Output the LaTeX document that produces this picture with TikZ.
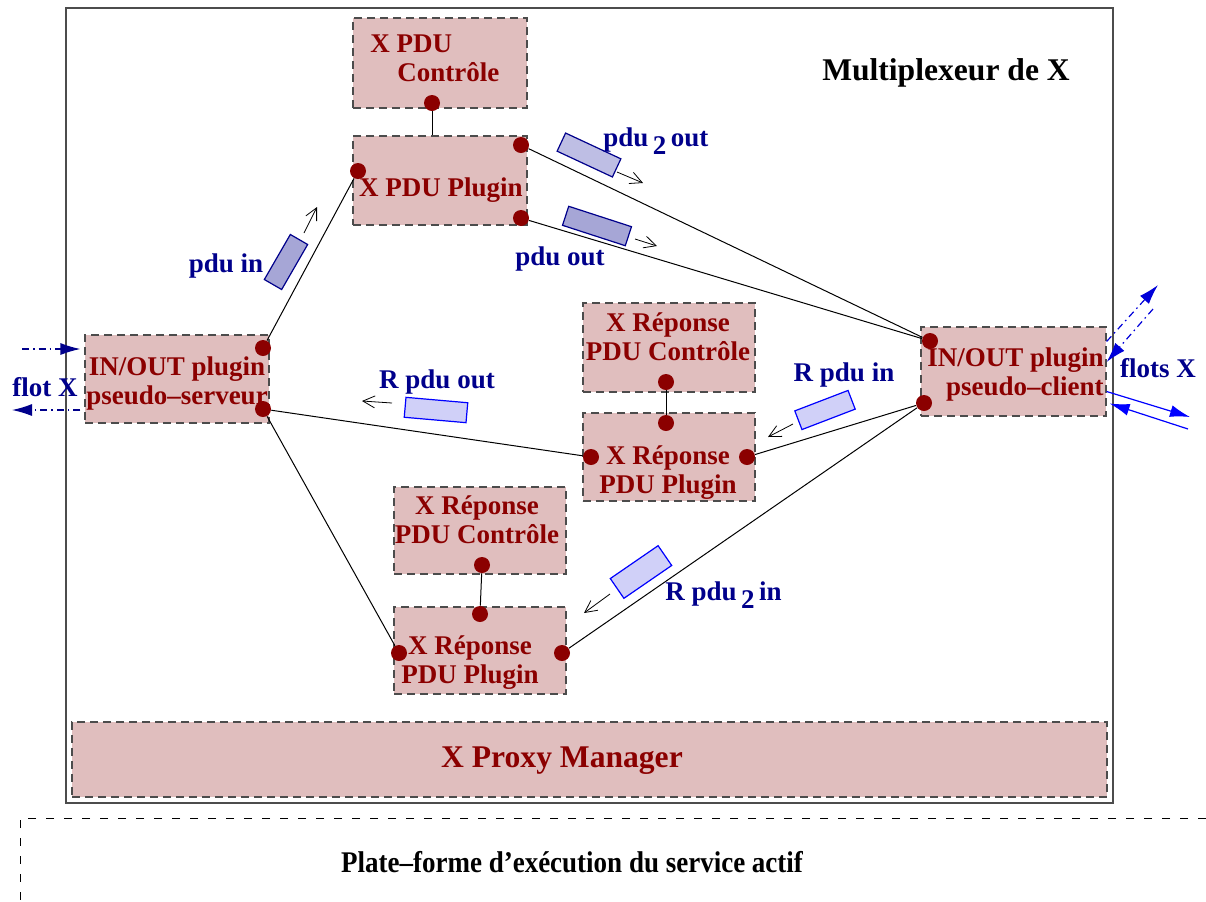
\documentclass[tikz,border=0pt]{standalone}
\usepackage{fontspec}
\setmainfont{Liberation Serif}
\usepackage{graphicx}
\usetikzlibrary{arrows.meta}
\definecolor{boxfill}{RGB}{224,190,190}
\definecolor{boxtext}{RGB}{139,0,0}
\definecolor{pdudark}{RGB}{166,166,214}
\definecolor{pdumid}{RGB}{190,190,228}
\definecolor{pdulight}{RGB}{208,208,248}
\definecolor{flowblue}{RGB}{0,0,139}

\begin{document}
\begin{tikzpicture}[
        x=0.5pt, y=-0.5pt,
        box/.style={rectangle, draw=black!70, dash pattern=on 4pt off 2.5pt,
                    fill=boxfill, line width=0.6pt, inner sep=0pt},
        boxtxt/.style={text=boxtext, font=\fontsize{13.5}{14.5}\selectfont\bfseries,
                       inner sep=0pt, align=center},
        dot/.style={circle, fill=boxtext, inner sep=0pt, minimum size=8pt},
        wire/.style={black, line width=0.5pt},
        pkt/.style={rectangle, draw=flowblue, line width=0.6pt,
                    minimum height=10pt, inner sep=0pt},
        pktarrow/.style={-{Straight Barb[length=6pt, width=6pt]}, black, line width=0.4pt},
        lbl/.style={text=flowblue, font=\fontsize{13.5}{14.5}\selectfont\bfseries, inner sep=0pt},
        flow/.style={-{Latex[length=10pt, width=6pt]}, line width=0.6pt},
        dashdot/.style={dash pattern=on 3.5pt off 2pt on 0.8pt off 2pt},
    ]
        \useasboundingbox (0,0) rectangle (1206,901);

        \node[draw=black!70, line width=1pt, minimum width=523.5pt, minimum height=397.5pt,
              inner sep=0pt] (mux) at (589.5,405.5) {};
        \node[font=\fontsize{15.8}{18}\selectfont\bfseries] (mux-t) at (946,73) {Multiplexeur de X};

        \node[box, minimum width=87pt, minimum height=45pt] (xctl) at (440,63) {};
        \node[box, minimum width=87pt, minimum height=44.5pt] (xplg) at (440,180.5) {};
        \node[box, minimum width=92pt, minimum height=44pt] (srv) at (177,379) {};
        \node[box, minimum width=92.5pt, minimum height=44.5pt] (cli) at (1013.5,371.5) {};
        \node[box, minimum width=86pt, minimum height=44.5pt] (rctla) at (669,347.5) {};
        \node[box, minimum width=86pt, minimum height=44pt] (rplga) at (669,457) {};
        \node[box, minimum width=86pt, minimum height=43.5pt] (rctlb) at (480,530.5) {};
        \node[box, minimum width=86pt, minimum height=43.5pt] (rplgb) at (480,650.5) {};
        \node[box, minimum width=517.5pt, minimum height=37.5pt] (proxy) at (589.5,759.5) {};

        \node[boxtxt, anchor=west, align=left] (xctl-t) at (370,58) {X PDU\\\hspace*{1em}Contrôle};
        \node[boxtxt] (xplg-t) at (441,190) {X PDU Plugin};
        \node[boxtxt] (srv-t) at (177,383) {IN/OUT plugin\\pseudo–serveur};
        \node[boxtxt, anchor=east, align=right] (cli-t) at (1104,374) {IN/OUT plugin\\pseudo–client};
        \node[boxtxt] (rctla-t) at (668,337) {X Réponse\\PDU Contrôle};
        \node[boxtxt] (rplga-t) at (668,473) {X Réponse\\PDU Plugin};
        \node[boxtxt] (rctlb-t) at (477,520) {X Réponse\\PDU Contrôle};
        \node[boxtxt] (rplgb-t) at (470,663) {X Réponse\\PDU Plugin};
        \node[boxtxt, font=\fontsize{15.8}{18}\selectfont\bfseries] (proxy-t) at (562,761) {X Proxy Manager};

        \node[dot] (xctl-s) at (432,103) {};
        \node[dot] (xplg-w) at (358,171) {};
        \node[dot] (xplg-ne) at (521,145) {};
        \node[dot] (xplg-se) at (521,218) {};
        \node[dot] (srv-ne) at (263,348) {};
        \node[dot] (srv-se) at (263,409) {};
        \node[dot] (cli-nw) at (930,341) {};
        \node[dot] (cli-sw) at (924,403) {};
        \node[dot] (rctla-s) at (666,382) {};
        \node[dot] (rplga-n) at (666,423) {};
        \node[dot] (rplga-w) at (591,457) {};
        \node[dot] (rplga-e) at (747,457) {};
        \node[dot] (rctlb-s) at (482,565) {};
        \node[dot] (rplgb-n) at (480,614) {};
        \node[dot] (rplgb-w) at (399,653) {};
        \node[dot] (rplgb-e) at (562,653) {};

        \draw[wire] (xctl-s) -- (xctl-s |- xplg.north);
        \draw[wire] (srv-ne) -- (xplg-w);
        \draw[wire] (xplg-ne) -- (cli-nw);
        \draw[wire] (xplg-se) -- (cli-nw);
        \draw[wire] (srv-se) -- (rplga-w);
        \draw[wire] (srv-se) -- (rplgb-w);
        \draw[wire] (rplga-e) -- (cli-sw);
        \draw[wire] (rplgb-e) -- (cli-sw);
        \draw[wire] (rctla-s) -- (rplga-n);
        \draw[wire] (rctlb-s) -- (rplgb-n);

        % paquets en transit
        \node[pkt, fill=pdudark, minimum width=26pt, rotate=60] (pduin) at (286,262) {};
        \node[pkt, fill=pdumid, minimum width=30.5pt, rotate=-25] (pdutwoout) at (589,155) {};
        \node[pkt, fill=pdudark, minimum width=33pt, rotate=-18] (pduout) at (597,226) {};
        \node[pkt, draw=blue, fill=pdulight, minimum width=31pt, rotate=-5] (rpduout) at (436,410) {};
        \node[pkt, draw=blue, fill=pdulight, minimum width=28.5pt, rotate=21] (rpduin) at (825,410) {};
        \node[pkt, draw=blue, fill=pdulight, minimum width=29pt, minimum height=12pt,
              rotate=34.5] (rpdutwoin) at (641,572) {};

        \coordinate (pduin-a) at (304,233);     \coordinate (pduin-b) at (317,207);
        \coordinate (pdutwoout-a) at (617,172); \coordinate (pdutwoout-b) at (643,183);
        \coordinate (pduout-a) at (635,239);    \coordinate (pduout-b) at (657,246);
        \coordinate (rpduout-a) at (392,403);   \coordinate (rpduout-b) at (362,401);
        \coordinate (rpduin-a) at (793,424);    \coordinate (rpduin-b) at (768,437);
        \coordinate (rpdutwoin-a) at (610,594); \coordinate (rpdutwoin-b) at (584,613);
        \draw[pktarrow] (pduin-a) -- (pduin-b);
        \draw[pktarrow] (pdutwoout-a) -- (pdutwoout-b);
        \draw[pktarrow] (pduout-a) -- (pduout-b);
        \draw[pktarrow] (rpduout-a) -- (rpduout-b);
        \draw[pktarrow] (rpduin-a) -- (rpduin-b);
        \draw[pktarrow] (rpdutwoin-a) -- (rpdutwoin-b);

        \node[lbl] (pduin-l) at (226,266) {pdu in};
        \node[lbl, anchor=base west] (pdutwoout-l) at (603,146) {pdu\,\raisebox{-4pt}{2}\,out};
        \node[lbl] (pduout-l) at (560,259) {pdu out};
        \node[lbl] (rpduout-l) at (437,382) {R pdu out};
        \node[lbl] (rpduin-l) at (844,375) {R pdu in};
        \node[lbl, anchor=base west] (rpdutwoin-l) at (665,600) {R pdu\,\raisebox{-4pt}{2}\,in};
        \node[lbl] (flotx-l) at (45,387) {flot X};
        \node[lbl] (flotsx-l) at (1158,368) {flots X};

        % flots X
        \coordinate (fl-in) at (22,349);
        \coordinate (fl-out) at (12,410);
        \draw[flow, flowblue, dashdot, shorten >=2pt] (fl-in) -- (srv.west |- fl-in);
        \draw[flow, flowblue, dashdot] ([xshift=-2pt]srv.west |- fl-out) -- (fl-out);

        \coordinate (fr-up) at (1158,285);
        \coordinate (fr-dn) at (1153,309);
        \coordinate (fr-out) at (1190,417);
        \coordinate (fr-in) at (1188,429);
        \draw[flow, blue!85!black, dashdot] ([yshift=15pt]cli.east) -- (fr-up);
        \draw[flow, blue!85!black, dashdot] (fr-dn) -- ([yshift=4.75pt]cli.east);
        \draw[flow, blue] ([yshift=-10pt]cli.east) -- (fr-out);
        \draw[flow, blue] (fr-in) -- ([xshift=1.5pt, yshift=-16pt]cli.east);

        % plate-forme
        \coordinate (pf-nw) at (20,818);
        \coordinate (pf-ne) at (1206,818);
        \coordinate (pf-sw) at (20,901);
        \draw[dash pattern=on 4pt off 5pt, line width=0.5pt] (pf-ne) -- (pf-nw) -- (pf-sw);
        \node[font=\fontsize{15}{18}\selectfont\bfseries] (pf-t) at (572,862)
            {\scalebox{0.9}[1]{Plate–forme d’exécution du service actif}};

    \end{tikzpicture}
\end{document}
